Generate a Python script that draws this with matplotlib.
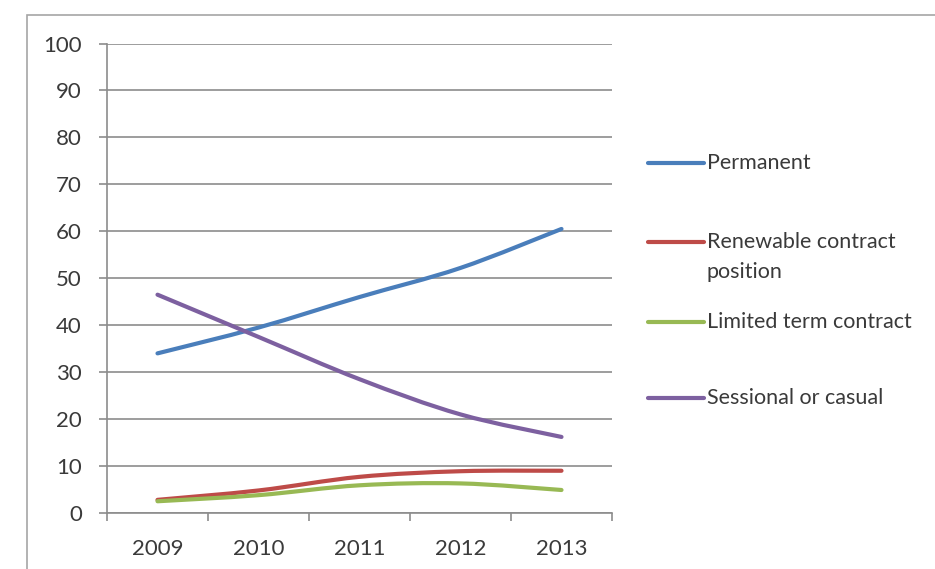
import numpy as np
import matplotlib
matplotlib.use("Agg")
import matplotlib.pyplot as plt
from matplotlib.path import Path
from matplotlib.patches import PathPatch, Rectangle
from matplotlib.lines import Line2D

# staff by employment type, % of total
years = ["2009", "2010", "2011", "2012", "2013"]
permanent = [34.0, 39.5, 46.0, 52.2, 60.5]
renewable = [2.8, 4.8, 7.7, 8.9, 9.0]
limited = [2.5, 3.8, 5.9, 6.3, 4.9]
sessional = [46.5, 37.5, 28.5, 21.0, 16.2]

series_names = ["Permanent", "Renewable contract\nposition", "Limited term contract", "Sessional or casual"]
series_values = [permanent, renewable, limited, sessional]
series_colors = ["#4A7EBB", "#BE4B48", "#98B954", "#7D60A0"]

plt.rcParams["font.family"] = ["Lato", "DejaVu Sans"]
text_color = "#3a3a3a"
grid_color = "#8c8c8c"

W, H = 935, 569
fig = plt.figure(figsize=(W / 100, H / 100), dpi=100)

# outer chart frame (cut off at right/bottom)
fig.add_artist(Rectangle((27 / W, -0.1), 2, (H - 15) / H + 0.1, transform=fig.transFigure,
                         fill=False, edgecolor="#a6a6a6", linewidth=1.2))

ax = fig.add_axes([107 / W, (H - 513) / H, (612 - 107) / W, (513 - 43.5) / H])


def smooth_path(xs, ys):
    # bezier segments through every point (same idea as a spreadsheet "smoothed line")
    pts = np.column_stack([xs, ys])
    ext = np.vstack([pts[0], pts, pts[-1]])
    verts = [pts[0]]
    codes = [Path.MOVETO]
    for i in range(len(pts) - 1):
        p0, p1, p2, p3 = ext[i], ext[i + 1], ext[i + 2], ext[i + 3]
        verts += [p1 + (p2 - p0) / 6, p2 - (p3 - p1) / 6, p2]
        codes += [Path.CURVE4] * 3
    return Path(verts, codes)


x = np.arange(1, len(years) + 1)
for vals, col in zip(series_values, series_colors):
    ax.add_patch(PathPatch(smooth_path(x, vals), fill=False, edgecolor=col,
                           linewidth=3.0, capstyle="round", joinstyle="round", zorder=3))

ax.set_xlim(0.5, len(years) + 0.5)
ax.set_ylim(0, 100)
ax.set_yticks(np.arange(0, 101, 10))
ax.set_xticks(np.arange(0.5, len(years) + 1, 1))
ax.set_xticklabels([])
ax.set_xticks(x, minor=True)
ax.set_xticklabels(years, minor=True)

ax.grid(axis="y", color=grid_color, linewidth=1.2)
ax.set_axisbelow(True)
for side in ["top", "right"]:
    ax.spines[side].set_visible(False)
for side in ["left", "bottom"]:
    ax.spines[side].set_color(grid_color)
    ax.spines[side].set_linewidth(1.2)

ax.tick_params(axis="both", which="major", direction="out", length=6, width=1.2,
               color=grid_color, labelcolor=text_color, labelsize=16)
ax.tick_params(axis="y", pad=12)
ax.tick_params(axis="x", which="minor", length=0, pad=19, labelcolor=text_color, labelsize=16)

# legend on the right, one text per line so the swatch sits on the first line
legend_y = [163, 242, 322, 398]
line_step = 30
for name, col, yy in zip(series_names, series_colors, legend_y):
    fy = (H - yy) / H
    fig.add_artist(Line2D([648 / W, 704 / W], [fy, fy], transform=fig.transFigure,
                          color=col, linewidth=3.0, solid_capstyle="round"))
    for i, part in enumerate(name.split("\n")):
        fig.text(707 / W, (H - yy - i * line_step) / H, part, fontsize=15.5,
                 color=text_color, va="center", ha="left")

fig.savefig("out.png", dpi=100)
